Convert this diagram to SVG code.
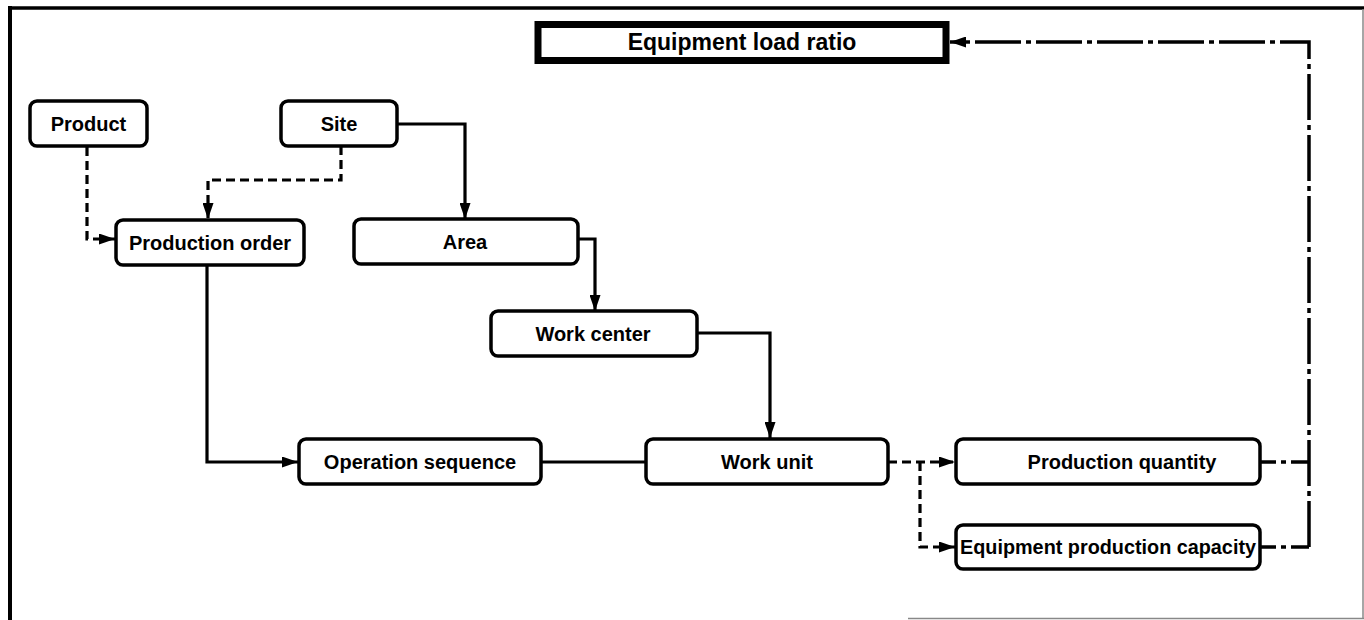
<svg xmlns="http://www.w3.org/2000/svg" width="1364" height="620" viewBox="0 0 1364 620">
<style>
.box{fill:#fff;stroke:#000;stroke-width:3.5}
.lbl{font-family:"Liberation Sans",Arial,sans-serif;font-weight:bold;font-size:20px;fill:#000;text-anchor:middle;dominant-baseline:central}
.solid{fill:none;stroke:#000;stroke-width:3.2}
.dash{fill:none;stroke:#000;stroke-width:3.2;stroke-dasharray:9 5}
.dd{fill:none;stroke:#000;stroke-width:3.5;stroke-dasharray:46 5 5 5}
</style>
<defs>
<marker id="arr" markerUnits="userSpaceOnUse" markerWidth="16" markerHeight="11" refX="16" refY="5.5" orient="auto">
<path d="M0,0 L16,5.5 L0,11 z" fill="#000"/>
</marker>
</defs>
<rect width="1364" height="620" fill="#fff"/>
<g id="frame">
<line x1="8" y1="8" x2="1364" y2="8" stroke="#000" stroke-width="3.5"/>
<line x1="10" y1="6" x2="10" y2="620" stroke="#000" stroke-width="4"/>
<line x1="1363" y1="9" x2="1363" y2="619" stroke="#888" stroke-width="1.5"/>
<line x1="908" y1="618.5" x2="1364" y2="618.5" stroke="#888" stroke-width="1.5"/>
</g>
<g id="connectors">
<path class="dash" d="M87,147 V239 H115" marker-end="url(#arr)"/>
<path class="dash" d="M341,146 V180 H208 V219" marker-end="url(#arr)"/>
<path class="solid" d="M397,124 H465 V219" marker-end="url(#arr)"/>
<path class="solid" d="M578,239 H595 V311" marker-end="url(#arr)"/>
<path class="solid" d="M697,333 H770 V438" marker-end="url(#arr)"/>
<path class="solid" d="M207,265 V462 H298" marker-end="url(#arr)"/>
<path class="solid" d="M541,462 H646"/>
<path class="dash" d="M888,462 H955" marker-end="url(#arr)"/>
<path class="dash" d="M920,462 V547 H955" marker-end="url(#arr)"/>
<path fill="none" stroke="#000" stroke-width="3.5" stroke-dasharray="15 5 5 5 30" d="M1261,462 H1309"/>
<path fill="none" stroke="#000" stroke-width="3.5" stroke-dasharray="15 5 5 5 30" d="M1261,547 H1309"/>
<path class="dd" d="M1309,547 V42 H950" marker-end="url(#arr)"/>
</g>
<g id="equipment-load-ratio">
<rect x="538" y="24.5" width="408" height="36" fill="#fff" stroke="#000" stroke-width="7"/>
<text class="lbl" x="742" y="42" style="font-size:23px">Equipment load ratio</text>
</g>
<g id="product">
<rect class="box" x="30" y="101" width="117" height="45" rx="7"/>
<text class="lbl" x="88.5" y="123.5">Product</text>
</g>
<g id="site">
<rect class="box" x="281" y="101" width="116" height="45" rx="7"/>
<text class="lbl" x="339" y="123.5">Site</text>
</g>
<g id="production-order">
<rect class="box" x="116" y="220" width="188" height="45" rx="7"/>
<text class="lbl" x="210" y="242.5">Production order</text>
</g>
<g id="area">
<rect class="box" x="354" y="219" width="224" height="45" rx="7"/>
<text class="lbl" x="465" y="241.5">Area</text>
</g>
<g id="work-center">
<rect class="box" x="491" y="311" width="206" height="45" rx="7"/>
<text class="lbl" x="593" y="333.5">Work center</text>
</g>
<g id="operation-sequence">
<rect class="box" x="299" y="439" width="242" height="45" rx="7"/>
<text class="lbl" x="420" y="461.5">Operation sequence</text>
</g>
<g id="work-unit">
<rect class="box" x="646" y="439" width="242" height="45" rx="7"/>
<text class="lbl" x="767" y="461.5">Work unit</text>
</g>
<g id="production-quantity">
<rect class="box" x="956" y="439" width="304" height="45" rx="7"/>
<text class="lbl" x="1122" y="461.5">Production quantity</text>
</g>
<g id="equipment-production-capacity">
<rect class="box" x="956" y="525" width="304" height="44" rx="7"/>
<text class="lbl" x="1108" y="547" textLength="296" lengthAdjust="spacingAndGlyphs">Equipment production capacity</text>
</g>
</svg>
